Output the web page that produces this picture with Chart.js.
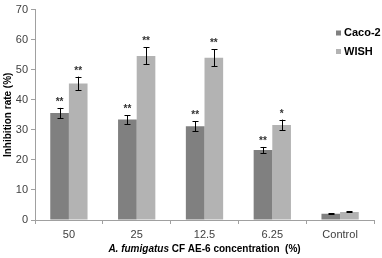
<!DOCTYPE html>
<html><head><meta charset="utf-8">
<script src="https://cdn.jsdelivr.net/npm/chart.js@4/dist/chart.umd.min.js"></script>
<style>html,body{margin:0;padding:0;background:#fff}#wrap{position:relative;width:382px;height:258px}</style>
</head><body><div id="wrap"><canvas id="c" width="382" height="258"></canvas></div>
<script>
const categories = ["50", "25", "12.5", "6.25", "Control"];
const caco2 = [35.6, 33.4, 31.2, 23.3, 2.1];
const wish = [45.4, 54.6, 54.0, 31.6, 2.7];
const caco2Err = [1.7, 1.5, 1.6, 1.0, 0.2];
const wishErr = [2.3, 2.8, 2.8, 1.8, 0.2];
const caco2Sig = ["**", "**", "**", "**", ""];
const wishSig = ["**", "**", "**", "*", ""];
const yTicks = [0, 10, 20, 30, 40, 50, 60, 70];
const seriesNames = ["Caco-2", "WISH"];
const colors = ["#808080", "#b3b3b3"];
const errs = [caco2Err, wishErr];
const sigs = [caco2Sig, wishSig];
const FONT = "'Liberation Sans', Arial, sans-serif";

const overlay = {
  id: 'overlay',
  afterDatasetsDraw(chart) {
    const ctx = chart.ctx;
    const y = chart.scales.y;
    ctx.save();
    chart.data.datasets.forEach((ds, di) => {
      const meta = chart.getDatasetMeta(di);
      meta.data.forEach((bar, i) => {
        const v = ds.data[i], e = errs[di][i];
        const yt = y.getPixelForValue(v + e), yb = y.getPixelForValue(v - e);
        const x = Math.round(bar.x) + 0.5;
        ctx.strokeStyle = '#000'; ctx.lineWidth = 1;
        ctx.beginPath();
        ctx.moveTo(x, yt); ctx.lineTo(x, yb);
        ctx.moveTo(x - 3, Math.round(yt) + 0.5); ctx.lineTo(x + 3, Math.round(yt) + 0.5);
        ctx.moveTo(x - 3, Math.round(yb) + 0.5); ctx.lineTo(x + 3, Math.round(yb) + 0.5);
        ctx.stroke();
        const s = sigs[di][i];
        if (s) {
          ctx.fillStyle = '#333'; ctx.font = 'bold 10px ' + FONT;
          ctx.textAlign = 'center'; ctx.textBaseline = 'alphabetic';
          ctx.fillText(s, bar.x, yt - 3);
        }
      });
    });
    // legend
    ctx.font = 'bold 11px ' + FONT; ctx.textBaseline = 'middle'; ctx.textAlign = 'left';
    seriesNames.forEach((n, k) => {
      const ly = 33 + k * 18.5;
      ctx.fillStyle = colors[k];
      ctx.fillRect(336, ly - 2.5, 5, 5);
      ctx.fillStyle = '#000';
      ctx.fillText(n, 344, ly);
    });
    // x title
    const ca = chart.chartArea;
    const p1 = 'A. fumigatus', p2 = ' CF AE-6 concentration  (%)';
    ctx.font = 'italic bold 10px ' + FONT; const w1 = ctx.measureText(p1).width;
    ctx.font = 'bold 10px ' + FONT; const w2 = ctx.measureText(p2).width;
    let sx = (ca.left + ca.right) / 2 - (w1 + w2) / 2;
    ctx.fillStyle = '#000'; ctx.textBaseline = 'middle';
    ctx.font = 'italic bold 10px ' + FONT; ctx.fillText(p1, sx, 249);
    ctx.font = 'bold 10px ' + FONT; ctx.fillText(p2, sx + w1, 249);
    ctx.restore();
  }
};

new Chart(document.getElementById('c'), {
  type: 'bar',
  data: {
    labels: categories,
    datasets: [
      { label: seriesNames[0], data: caco2, backgroundColor: colors[0] },
      { label: seriesNames[1], data: wish, backgroundColor: colors[1] }
    ]
  },
  options: {
    responsive: false, animation: false,
    layout: { padding: { left: 0, right: 8, top: 5, bottom: 0 } },
    plugins: { legend: { display: false }, tooltip: { enabled: false } },
    datasets: { bar: { categoryPercentage: 0.55, barPercentage: 1.0 } },
    scales: {
      x: {
        grid: { display: true, drawOnChartArea: false, drawTicks: true, tickLength: 4, color: '#a0a0a0', offset: true },
        border: { color: '#a0a0a0' },
        ticks: { color: '#404040', font: { family: FONT, size: 11 }, padding: 4, maxRotation: 0 },
        afterFit(s) { s.height = 38; }
      },
      y: {
        min: 0, max: 70,
        afterBuildTicks(s) { s.ticks = yTicks.map(v => ({ value: v })); },
        grid: { display: true, drawOnChartArea: false, drawTicks: true, tickLength: 4, color: '#a0a0a0' },
        border: { color: '#a0a0a0' },
        ticks: { color: '#404040', font: { family: FONT, size: 11 }, padding: 3 },
        title: { display: true, text: 'Inhibition rate (%)', color: '#000', font: { family: FONT, size: 10, weight: 'bold' }, padding: { top: 2, bottom: 2 } },
        afterFit(s) { s.width = 35; }
      }
    }
  },
  plugins: [overlay]
});
</script></body></html>
